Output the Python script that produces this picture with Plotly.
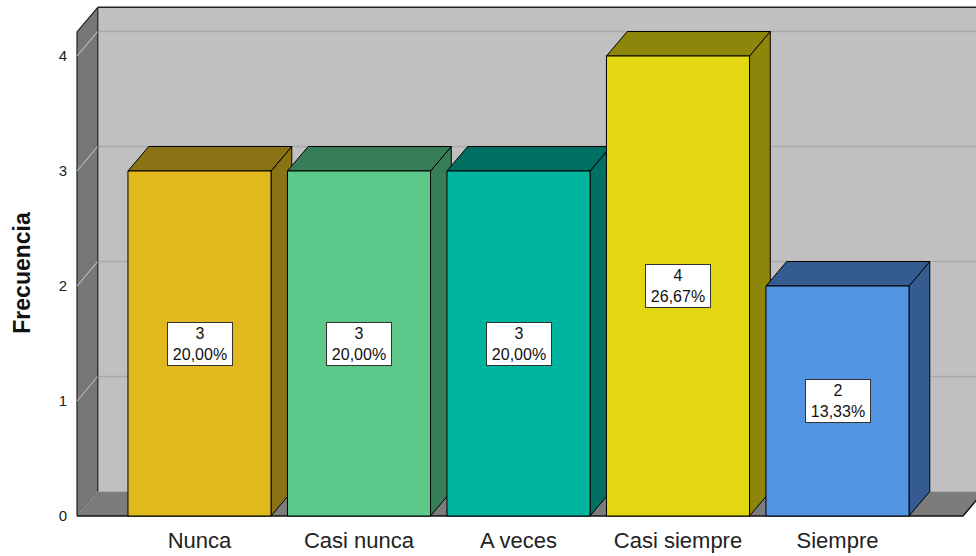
import plotly.graph_objects as go

# ---- data ----
categories = ["Nunca", "Casi nunca", "A veces", "Casi siempre", "Siempre"]
counts = [3, 3, 3, 4, 2]
percent_labels = ["20,00%", "20,00%", "20,00%", "26,67%", "13,33%"]
front_colors = ["#E1B91F", "#5CC98B", "#00B5A0", "#E3D711", "#5294E2"]
shade_colors = ["#8A7314", "#377D57", "#006F62", "#8C860A", "#345C90"]
y_ticks = [0, 1, 2, 3, 4]

# ---- pseudo-3D geometry (data units) ----
BAR_W = 0.897
DX = 0.13
DY = 0.213
WALL_TOP = 4.21
X_LEFT = -0.768
X_RIGHT = 4.787

W, H = 976, 556
ML, MR, MT, MB = 74, 0, 0, 36
PX_X = 159.5   # pixels per category
PX_Y = 115.0   # pixels per count unit
x_min = X_LEFT - (77 - ML) / PX_X
x_max = x_min + (W - ML - MR) / PX_X
y_min = -4 / PX_Y
y_max = y_min + (H - MT - MB) / PX_Y

FONT = "Liberation Sans, Arial, sans-serif"

fig = go.Figure()


def poly(xs, ys, fill, line="black", lw=1):
    fig.add_trace(go.Scatter(
        x=list(xs) + [xs[0]], y=list(ys) + [ys[0]],
        mode="lines", fill="toself", fillcolor=fill,
        line=dict(color=line, width=lw), hoverinfo="skip", showlegend=False))


def line(xs, ys, color, lw=1):
    fig.add_trace(go.Scatter(
        x=xs, y=ys, mode="lines", line=dict(color=color, width=lw),
        hoverinfo="skip", showlegend=False))


# back wall
poly([X_LEFT + DX, X_RIGHT + DX + 1, X_RIGHT + DX + 1, X_LEFT + DX],
     [DY, DY, WALL_TOP + DY, WALL_TOP + DY], "#C0C0C0", line="rgba(0,0,0,0)", lw=0)
for t in y_ticks[1:]:
    line([X_LEFT + DX, X_RIGHT + DX + 1], [t + DY, t + DY], "#A9A9A9", 1.5)
line([X_LEFT + DX, X_RIGHT + DX + 1], [WALL_TOP + DY, WALL_TOP + DY], "#222222", 1.5)

# left wall
poly([X_LEFT, X_LEFT, X_LEFT + DX, X_LEFT + DX],
     [0, WALL_TOP, WALL_TOP + DY, DY], "#777777", line="#222222", lw=1.2)
for t in y_ticks:
    line([X_LEFT, X_LEFT + DX], [t, t + DY], "#CFCFCF", 1)

# floor
poly([X_LEFT, X_RIGHT, X_RIGHT + DX, X_LEFT + DX],
     [0, 0, DY, DY], "#7C7C7C", line="rgba(0,0,0,0)", lw=0)
line([X_LEFT, X_RIGHT, X_RIGHT + DX], [0, 0, DY], "#111111", 1.5)

# bars
for i, v in enumerate(counts):
    x0, x1 = i - BAR_W / 2, i + BAR_W / 2
    poly([x1, x1 + DX, x1 + DX, x1], [0, DY, v + DY, v], shade_colors[i])
    poly([x0, x0 + DX, x1 + DX, x1], [v, v + DY, v + DY, v], shade_colors[i])
    poly([x0, x1, x1, x0], [0, 0, v, v], front_colors[i])
    fig.add_annotation(
        x=i, y=v / 2, xref="x", yref="y",
        text=f"{v}<br>{percent_labels[i]}", showarrow=False,
        font=dict(family=FONT, size=16, color="#111111"),
        bgcolor="white", bordercolor="#333333", borderwidth=1, borderpad=1,
        width=62, height=40, align="center")

# y-axis title
fig.add_annotation(
    x=-0.058, y=(516 - 273) / PX_Y, xref="paper", yref="y",
    text="<b>Frecuencia</b>", textangle=-90, showarrow=False,
    font=dict(family=FONT, size=23, color="#111111"),
    xanchor="center", yanchor="middle")

fig.update_layout(
    width=W, height=H,
    margin=dict(l=ML, r=MR, t=MT, b=MB, pad=0),
    paper_bgcolor="white", plot_bgcolor="white",
    showlegend=False,
    xaxis=dict(range=[x_min, x_max], tickmode="array",
               tickvals=list(range(len(categories))), ticktext=categories,
               showgrid=False, zeroline=False, showline=False, ticks="",
               ticklabelstandoff=5,
               tickfont=dict(family=FONT, size=22, color="#222222"),
               fixedrange=True),
    yaxis=dict(range=[y_min, y_max], tickmode="array", tickvals=y_ticks,
               ticktext=[str(t) for t in y_ticks],
               showgrid=False, zeroline=False, showline=False, ticks="",
               ticklabelstandoff=6,
               tickfont=dict(family=FONT, size=15, color="#222222"),
               fixedrange=True),
)

fig.write_html("out.html", config={"displayModeBar": False},
               post_script="document.body.style.margin='0';")
